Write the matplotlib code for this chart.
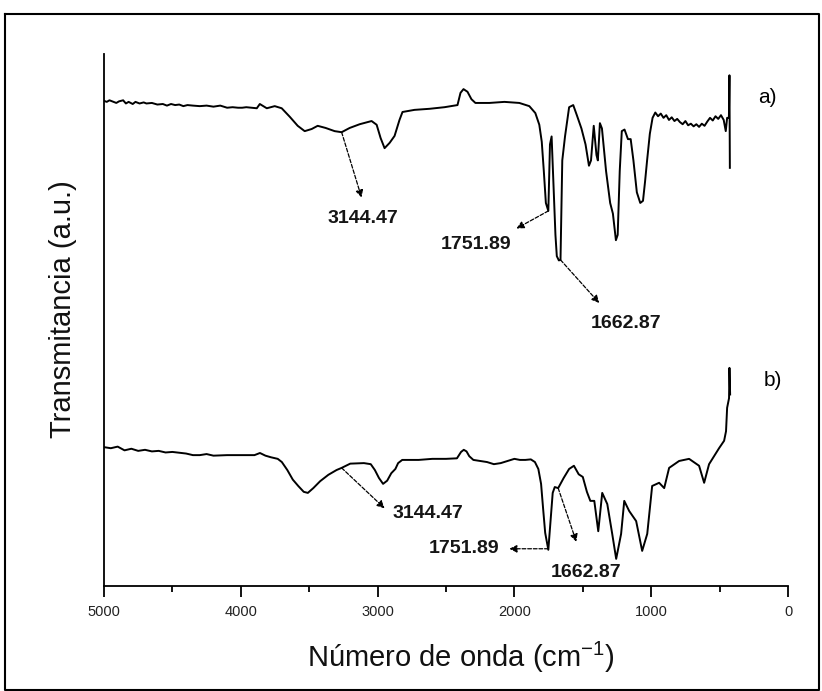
import matplotlib
matplotlib.use("Agg")
import matplotlib.pyplot as plt
from matplotlib.ticker import MultipleLocator
from matplotlib.lines import Line2D

plt.rcParams['font.family'] = ['Liberation Sans', 'DejaVu Sans']
plt.rcParams['mathtext.default'] = 'regular'

# ---------------- data (wavenumber cm-1, transmittance a.u.) ----------------
wn_a = [5000, 4980, 4960, 4930, 4910, 4890, 4860, 4840, 4820, 4790, 4770, 4740,
        4710, 4690, 4650, 4610, 4570, 4540, 4510, 4480, 4450, 4420, 4390, 4350,
        4300, 4250, 4200, 4150, 4100, 4060, 4020, 3990, 3960, 3920, 3883, 3861,
        3810, 3752, 3701, 3642, 3584, 3533, 3482, 3438, 3380, 3314, 3263, 3204,
        3131, 3044, 3007, 2978, 2949, 2912, 2876, 2840, 2818, 2730, 2620, 2511,
        2416, 2394, 2372, 2343, 2314, 2285, 2183, 2073, 1964, 1891, 1847, 1818,
        1800, 1785, 1770, 1752, 1740, 1728, 1715, 1700, 1690, 1675, 1663, 1650,
        1630, 1600, 1570, 1545, 1510, 1480, 1455, 1440, 1420, 1400, 1390, 1375,
        1360, 1345, 1330, 1300, 1280, 1258, 1245, 1230, 1215, 1195, 1170, 1150,
        1130, 1105, 1080, 1060, 1045, 1030, 1010, 990, 970, 950, 930, 910, 890,
        870, 850, 830, 810, 790, 770, 750, 730, 710, 690, 670, 650, 630, 610,
        590, 570, 550, 530, 510, 490, 470, 455, 445, 432, 428, 425]
t_a = [91.2, 91.0, 91.3, 91.0, 90.8, 91.1, 91.3, 90.7, 91.0, 90.6, 91.0, 90.7,
       90.9, 90.7, 90.8, 90.5, 90.6, 90.3, 90.6, 90.4, 90.5, 90.2, 90.4, 90.3,
       90.2, 90.3, 90.1, 90.3, 89.9, 90.0, 89.9, 89.9, 90.0, 89.9, 89.8, 90.6,
       89.8, 90.2, 89.8, 88.2, 86.5, 85.5, 85.9, 86.5, 86.1, 85.5, 85.3, 86.1,
       86.8, 87.4, 86.7, 84.2, 82.3, 83.3, 84.6, 87.6, 89.1, 89.5, 89.7, 90.0,
       90.4, 92.7, 93.4, 92.9, 91.5, 90.8, 90.8, 91.0, 90.8, 90.2, 88.9, 86.7,
       83.5, 78.0, 72.0, 70.5, 83.0, 84.5, 76.0, 66.0, 62.0, 61.2, 61.3, 80.0,
       84.5, 90.0, 90.4, 88.6, 86.0, 83.0, 79.0, 80.0, 86.5, 81.0, 80.0, 87.0,
       86.0, 82.0, 78.0, 72.0, 70.0, 65.0, 66.0, 78.0, 85.5, 85.8, 84.0, 84.0,
       80.0, 74.0, 72.0, 72.4, 76.0, 80.0, 85.0, 88.0, 89.0, 88.3, 88.8, 88.0,
       88.5, 87.6, 88.1, 87.4, 87.8, 87.2, 86.8, 87.4, 86.6, 86.9, 86.4, 86.8,
       86.3, 86.9, 86.5, 87.3, 88.0, 87.5, 88.3, 87.8, 88.5, 87.6, 85.5, 88.0,
       88.0, 96.0, 78.6]

wn_b = [5000, 4950, 4900, 4850, 4800, 4750, 4700, 4650, 4600, 4550, 4500, 4400,
        4350, 4300, 4250, 4200, 4100, 4000, 3900, 3860, 3820, 3780, 3730, 3700,
        3660, 3620, 3580, 3540, 3510, 3470, 3420, 3360, 3300, 3263, 3200, 3100,
        3050, 3020, 2990, 2960, 2930, 2900, 2870, 2850, 2820, 2700, 2600, 2500,
        2420, 2390, 2370, 2350, 2330, 2300, 2250, 2200, 2150, 2100, 2050, 2000,
        1960, 1920, 1880, 1850, 1825, 1805, 1790, 1775, 1752, 1735, 1720, 1705,
        1680, 1640, 1600, 1565, 1530, 1500, 1470, 1445, 1416, 1387, 1358, 1321,
        1285, 1256, 1220, 1197, 1161, 1110, 1066, 1029, 993, 942, 905, 869, 796,
        723, 650, 613, 577, 504, 467, 453, 445, 431, 428, 423]
t_b = [26.1, 25.9, 26.2, 25.5, 25.8, 25.4, 25.6, 25.3, 25.4, 25.1, 25.2, 24.9,
       24.6, 24.6, 24.8, 24.5, 24.6, 24.6, 24.6, 25.0, 24.5, 24.2, 23.9, 23.3,
       21.8, 20.0, 18.8, 17.7, 17.5, 18.4, 19.7, 20.9, 21.8, 22.2, 23.0, 23.1,
       22.9, 21.8, 20.3, 19.2, 19.8, 21.2, 22.0, 23.1, 23.7, 23.7, 23.9, 23.9,
       24.0, 25.2, 25.6, 25.3, 24.4, 23.7, 23.5, 23.3, 22.9, 23.1, 23.5, 23.9,
       23.7, 23.7, 23.8, 23.3, 22.0, 19.2, 14.5, 10.0, 6.8, 12.5, 17.5, 18.6,
       18.4, 20.3, 22.0, 22.6, 21.0, 20.5, 17.7, 16.0, 16.0, 10.3, 17.5, 15.4,
       9.8, 5.1, 9.8, 16.0, 14.1, 12.2, 6.6, 9.8, 18.8, 19.4, 18.4, 22.2, 23.5,
       23.9, 22.6, 19.4, 22.9, 25.9, 27.3, 29.1, 33.5, 35.3, 41.0, 36.0]

peak_labels = ["3144.47", "1751.89", "1662.87"]
series_labels = ["a)", "b)"]
x_ticks = [5000, 4000, 3000, 2000, 1000, 0]

# ---------------- figure ----------------
W, H = 822, 691
fig = plt.figure(figsize=(W / 100, H / 100), dpi=100)
ax = fig.add_axes([104 / W, 1 - 586 / H, (788 - 104) / W, (586 - 54) / H])

ax.plot(wn_a, t_a, color='black', lw=1.4)
ax.plot(wn_b, t_b, color='black', lw=1.4)

ax.set_xlim(5000, 0)
ax.set_ylim(0, 100)
ax.set_xticks(x_ticks)
ax.set_xticklabels([str(v) for v in x_ticks], fontsize=10.5, color='#222222')
ax.xaxis.set_minor_locator(MultipleLocator(500))
ax.tick_params(axis='x', which='major', direction='out', length=8, width=1.3, pad=6)
ax.tick_params(axis='x', which='minor', direction='out', length=4, width=1.3)
ax.set_yticks([])
for s in ['top', 'right']:
    ax.spines[s].set_visible(False)
for s in ['left', 'bottom']:
    ax.spines[s].set_linewidth(1.3)

# axis titles
fig.text(461 / W, 1 - 657 / H, "Número de onda (cm$^{-1}$)", fontsize=21,
         ha='center', va='center', color='#111111')
fig.text(63 / W, 1 - 309 / H, "Transmitancia (a.u.)", fontsize=21, rotation=90,
         ha='center', va='center', color='#111111')

# annotations: (label, tail(x,y), head(x,y), text(x,y), ha)
arrow_kw = dict(arrowstyle='-|>', lw=0.9, color='black', mutation_scale=11,
                shrinkA=0, shrinkB=0, linestyle=(0, (3, 1.5)))
ann = [
    (peak_labels[0], (3263, 85.3), (3117, 73.0), (3110, 69.0), 'center'),
    (peak_labels[1], (1752, 70.5), (1985, 67.2), (2277, 64.2), 'center'),
    (peak_labels[2], (1663, 61.3), (1380, 53.2), (1182, 49.4), 'center'),
    (peak_labels[0], (3263, 22.2), (2949, 14.6), (2891, 13.6), 'left'),
    (peak_labels[1], (1752, 7.0), (2037, 7.0), (2110, 7.0), 'right'),
    (peak_labels[2], (1680, 18.4), (1547, 8.3), (1474, 2.6), 'center'),
]
for lab, tail, head, tpos, ha in ann:
    ax.annotate('', xy=head, xytext=tail, arrowprops=arrow_kw)
    ax.text(tpos[0], tpos[1], lab, fontsize=14, fontweight='bold', ha=ha,
            va='center', color='#151515')

ax.text(150, 91.8, series_labels[0], fontsize=15, ha='center', va='center')
ax.text(110, 38.6, series_labels[1], fontsize=15, ha='center', va='center')

# outer frame
fx0, fx1 = 5 / W, 819 / W
fy0, fy1 = 1 / H, 1 - 14 / H
fig.add_artist(Line2D([fx0, fx1, fx1, fx0, fx0], [fy1, fy1, fy0, fy0, fy1],
                      transform=fig.transFigure, color='black', lw=1.5))

fig.savefig("out.png", dpi=100)
